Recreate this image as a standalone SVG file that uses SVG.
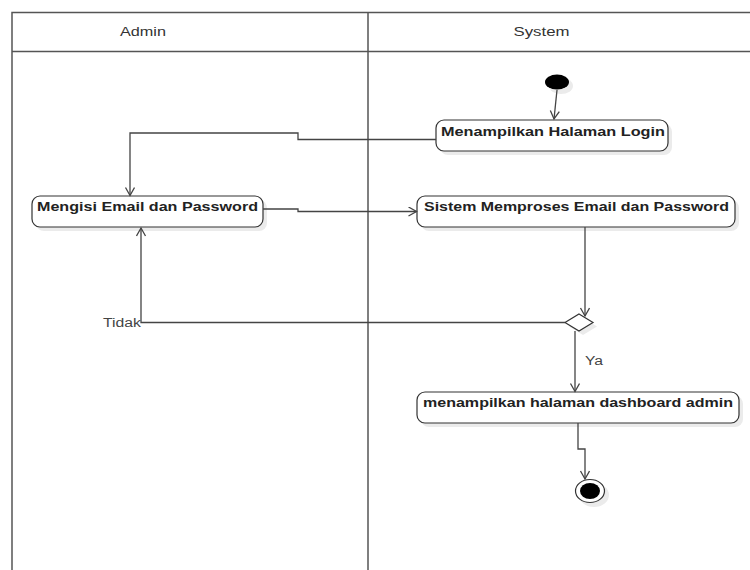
<svg xmlns="http://www.w3.org/2000/svg" width="750" height="570" viewBox="0 0 750 570">
<style>
.lane{stroke:#555;stroke-width:1.5;fill:none}
.hdr{font-family:"Liberation Sans",Arial,sans-serif;font-size:12px;fill:#333}
.box{fill:#fff;stroke:#333;stroke-width:1.2}
.shadow{fill:#ebebeb;stroke:none}
.lbl{font-family:"Liberation Sans",Arial,sans-serif;font-size:13px;font-weight:bold;fill:#222}
.edge{stroke:#444;stroke-width:1.3;fill:none;marker-end:url(#arr)}
.glbl{font-family:"Liberation Sans",Arial,sans-serif;font-size:12px;fill:#444}
</style>
<defs>
<marker id="arr" markerUnits="userSpaceOnUse" markerWidth="12" markerHeight="12" refX="9" refY="5" orient="auto">
<path d="M1,0.5 L9,5 L1,9.5" fill="none" stroke="#444" stroke-width="1.3"/>
</marker>
</defs>
<rect width="750" height="570" fill="#fff"/>
<g id="swimlanes">
<path class="lane" d="M12,570 V12.5 H750"/>
<path class="lane" d="M12,51.5 H750"/>
<path class="lane" d="M368,12.5 V570"/>
<text class="hdr" x="143" y="36" text-anchor="middle" textLength="46" lengthAdjust="spacingAndGlyphs">Admin</text>
<text class="hdr" x="541.5" y="36" text-anchor="middle" textLength="56" lengthAdjust="spacingAndGlyphs">System</text>
</g>
<g id="start">
<ellipse cx="561" cy="86" rx="12" ry="8" class="shadow"/>
<ellipse cx="557" cy="82" rx="12" ry="7.5" fill="#000"/>
</g>
<g id="login">
<rect x="440" y="124" width="232" height="31" rx="8" class="shadow"/>
<rect x="436" y="120" width="232" height="31" rx="8" class="box"/>
<text class="lbl" x="441" y="135.5" textLength="224" lengthAdjust="spacingAndGlyphs">Menampilkan Halaman Login</text>
</g>
<g id="mengisi">
<rect x="36" y="200" width="231" height="31" rx="8" class="shadow"/>
<rect x="32" y="196" width="231" height="31" rx="8" class="box"/>
<text class="lbl" x="37" y="211" textLength="221" lengthAdjust="spacingAndGlyphs">Mengisi Email dan Password</text>
</g>
<g id="sistem">
<rect x="421" y="200" width="318" height="31" rx="8" class="shadow"/>
<rect x="417" y="196" width="318" height="31" rx="8" class="box"/>
<text class="lbl" x="424" y="210.5" textLength="305" lengthAdjust="spacingAndGlyphs">Sistem Memproses Email dan Password</text>
</g>
<g id="decision">
<polygon points="583,318 597,326.5 583,335 569,326.5" class="shadow"/>
<polygon points="579,314 593,322.5 579,331 565,322.5" fill="#fff" stroke="#333" stroke-width="1.2"/>
</g>
<g id="dashboard">
<rect x="421" y="396" width="322" height="31" rx="8" class="shadow"/>
<rect x="417" y="392" width="322" height="31" rx="8" class="box"/>
<text class="lbl" x="423" y="406.5" textLength="310" lengthAdjust="spacingAndGlyphs">menampilkan halaman dashboard admin</text>
</g>
<g id="end">
<ellipse cx="594" cy="495" rx="15" ry="12" class="shadow"/>
<ellipse cx="590" cy="491" rx="14.5" ry="11.5" fill="#fff" stroke="#333" stroke-width="1.2"/>
<ellipse cx="590" cy="491" rx="10" ry="8" fill="#000"/>
</g>
<g id="connectors">
<path class="edge" d="M557,90 L554,119"/>
<path class="edge" d="M436,139.5 H298 V133 H130 V195.5"/>
<path class="edge" d="M263,209 H298 V211.5 H416.5"/>
<path class="edge" d="M585,227 V316"/>
<path class="edge" d="M565,322.5 H141 V228"/>
<path class="edge" d="M575,331 V391.5"/>
<path class="edge" d="M578,423 V449 H585 V479"/>
<text class="glbl" x="103" y="327" textLength="38" lengthAdjust="spacingAndGlyphs">Tidak</text>
<text class="glbl" x="585" y="365" textLength="18" lengthAdjust="spacingAndGlyphs">Ya</text>
</g>
</svg>
